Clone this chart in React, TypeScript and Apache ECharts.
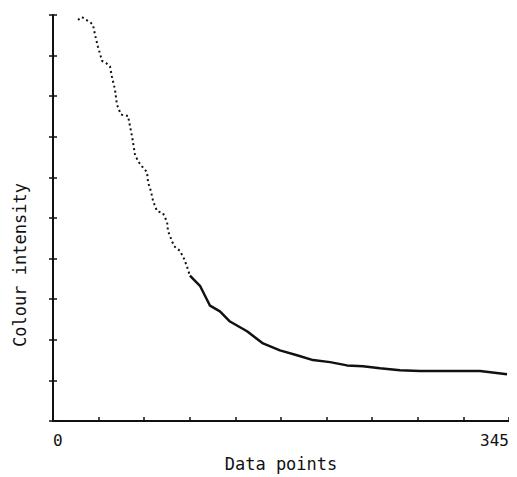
import React, { useEffect, useRef } from "react";
import * as echarts from "echarts";

const upperX = [18.9, 21.9, 25.0, 28.0, 30.3, 31.8, 34.0, 37.1, 40.1, 43.1, 44.6, 46.9, 48.4, 51.4, 54.5, 56.7, 59.8, 62.0, 64.3, 67.3, 71.1, 71.9, 74.1, 75.7, 78.7, 83.2, 86.3, 87.0, 89.3, 91.5, 96.1, 99.1, 101.4, 103.6];
const upperY = [9.88, 9.95, 9.88, 9.83, 9.75, 9.51, 9.22, 8.87, 8.82, 8.73, 8.48, 8.16, 7.79, 7.55, 7.52, 7.52, 7.01, 6.57, 6.40, 6.27, 6.13, 5.88, 5.66, 5.42, 5.17, 5.12, 4.90, 4.68, 4.49, 4.31, 4.19, 4.00, 3.80, 3.58];
const lowerX = [103.6, 111.2, 118.8, 126.3, 133.9, 146.8, 158.9, 171.7, 184.6, 196.7, 209.6, 222.4, 234.5, 247.4, 262.5, 277.7, 292.8, 307.9, 323.1, 343.5];
const lowerY = [3.58, 3.33, 2.84, 2.70, 2.45, 2.21, 1.91, 1.74, 1.62, 1.50, 1.45, 1.37, 1.35, 1.30, 1.25, 1.23, 1.23, 1.23, 1.23, 1.15];

const xTickLabels = ["0", "345"];
const yName = "Colour intensity";
const xName = "Data points";

export default function App() {
  const ref = useRef<HTMLDivElement>(null);
  useEffect(() => {
    if (!ref.current) return;
    const chart = echarts.init(ref.current, null, { renderer: "svg" });
    const font = "DejaVu Sans Mono";
    const axisLine = { show: true, lineStyle: { color: "#111", width: 2 } };
    chart.setOption({
      animation: false,
      backgroundColor: "#fff",
      grid: { left: 53, top: 15, right: 8, bottom: 54 },
      xAxis: {
        type: "value",
        min: 0,
        max: 345,
        interval: 34.5,
        axisLine,
        axisTick: { show: true, inside: true, length: 4, lineStyle: { color: "#111", width: 1.5 } },
        splitLine: { show: false },
        axisLabel: {
          color: "#111",
          fontFamily: font,
          fontSize: 16,
          margin: 11,
          alignMinLabel: "left",
          alignMaxLabel: "right",
          formatter: (v: number) => (v === 0 ? xTickLabels[0] : Math.abs(v - 345) < 0.01 ? xTickLabels[1] : ""),
        },
        name: xName,
        nameLocation: "middle",
        nameGap: 34,
        nameTextStyle: { color: "#111", fontFamily: font, fontSize: 17 },
      },
      yAxis: [
        {
          type: "value",
          min: 0,
          max: 10,
          interval: 1,
          axisLine,
          axisTick: { show: true, inside: false, length: 4, lineStyle: { color: "#111", width: 1.5 } },
          axisLabel: { show: false },
          splitLine: { show: false },
        },
        {
          type: "value",
          position: "left",
          offset: 0,
          min: 0,
          max: 10,
          interval: 1,
          axisLine: { show: false },
          axisTick: { show: true, inside: true, length: 4, lineStyle: { color: "#111", width: 1.5 } },
          axisLabel: { show: false },
          splitLine: { show: false },
        },
      ],
      graphic: [
        {
          type: "text",
          x: 20,
          y: 265,
          rotation: Math.PI / 2,
          style: {
            text: yName,
            fill: "#111",
            font: `17px ${font}`,
            textAlign: "center",
            textVerticalAlign: "middle",
          },
        },
      ],
      series: [
        {
          type: "line",
          data: upperX.map((x, i) => [x, upperY[i]]),
          showSymbol: false,
          lineStyle: { color: "#111", width: 2, type: [2, 3] },
        },
        {
          type: "line",
          data: lowerX.map((x, i) => [x, lowerY[i]]),
          showSymbol: false,
          lineStyle: { color: "#111", width: 2.5 },
        },
      ],
    });
    return () => chart.dispose();
  }, []);
  return <div ref={ref} style={{ width: 517, height: 477, marginLeft: -8, marginTop: -8 }} />;
}
